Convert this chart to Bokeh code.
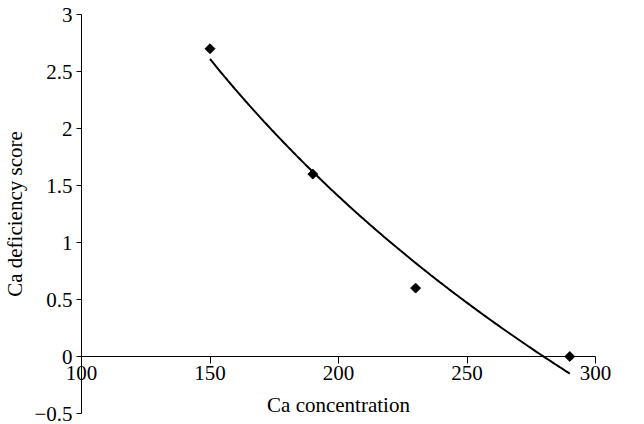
import numpy as np
from bokeh.plotting import figure
from bokeh.models import FixedTicker, Range1d, CustomJSTickFormatter
from bokeh.embed import file_html
from bokeh.resources import INLINE

# data
ca_conc = [150, 190, 230, 290]
deficiency = [2.7, 1.6, 0.6, 0.0]
x_ticks = [100, 150, 200, 250, 300]
y_ticks = [-0.5, 0, 0.5, 1, 1.5, 2, 2.5, 3]
x_axis_min, x_axis_max = 100, 300
y_axis_min, y_axis_max = -0.5, 3

# logarithmic trendline (least squares on ln x), as in the reference
a, b = np.polyfit(np.log(ca_conc), deficiency, 1)
x_fit = np.linspace(min(ca_conc), max(ca_conc), 200)
y_fit = a * np.log(x_fit) + b

# layout: the frame fills the whole canvas, axes are placed at fixed data locations
W, H = 644, 424
PX_LEFT, PX_RIGHT = 81, 595      # pixel x of x_axis_min / x_axis_max
PX_TOP, PX_BOTTOM = 14, 413      # pixel y of y_axis_max / y_axis_min
sx = (PX_RIGHT - PX_LEFT) / (x_axis_max - x_axis_min)
sy = (PX_BOTTOM - PX_TOP) / (y_axis_max - y_axis_min)
x_range = Range1d(x_axis_min - PX_LEFT / sx, x_axis_max + (W - PX_RIGHT) / sx)
y_range = Range1d(y_axis_min - (H - PX_BOTTOM) / sy, y_axis_max + PX_TOP / sy)

FONT = "Liberation Serif"
FS = "21px"

p = figure(width=W, height=H, output_backend="svg", toolbar_location=None,
           x_range=x_range, y_range=y_range,
           min_border_left=0, min_border_right=0, min_border_top=0, min_border_bottom=0)
p.grid.visible = False
p.outline_line_color = None
p.background_fill_color = "white"
p.border_fill_color = "white"

p.line(x_fit, y_fit, line_color="black", line_width=2)
p.scatter(ca_conc, deficiency, marker="square", angle=np.pi / 4, size=7,
          fill_color="black", line_color="black")

fmt = CustomJSTickFormatter(code="return tick < 0 ? '\u2212' + String(-tick) : String(tick);")

xa = p.xaxis[0]
xa.fixed_location = 0
xa.bounds = (x_axis_min, x_axis_max)
xa.ticker = FixedTicker(ticks=x_ticks)
xa.axis_label = "Ca concentration"
xa.major_tick_out = 7
xa.major_label_standoff = 2
xa.axis_label_standoff = 10

ya = p.yaxis[0]
ya.fixed_location = x_axis_min
ya.bounds = (y_axis_min, y_axis_max)
ya.ticker = FixedTicker(ticks=y_ticks)
ya.axis_label = "Ca deficiency score"
ya.major_tick_out = 5
ya.major_label_standoff = 4
ya.axis_label_standoff = 4

for ax in (xa, ya):
    ax.formatter = fmt
    ax.major_tick_in = 0
    ax.minor_tick_line_color = None
    ax.axis_line_color = "black"
    ax.major_tick_line_color = "black"
    ax.axis_line_width = 1
    ax.major_label_text_font = FONT
    ax.major_label_text_font_size = FS
    ax.major_label_text_color = "black"
    ax.axis_label_text_font = FONT
    ax.axis_label_text_font_size = FS
    ax.axis_label_text_font_style = "normal"
    ax.axis_label_text_color = "black"

open("out.html", "w").write(file_html(p, INLINE))
